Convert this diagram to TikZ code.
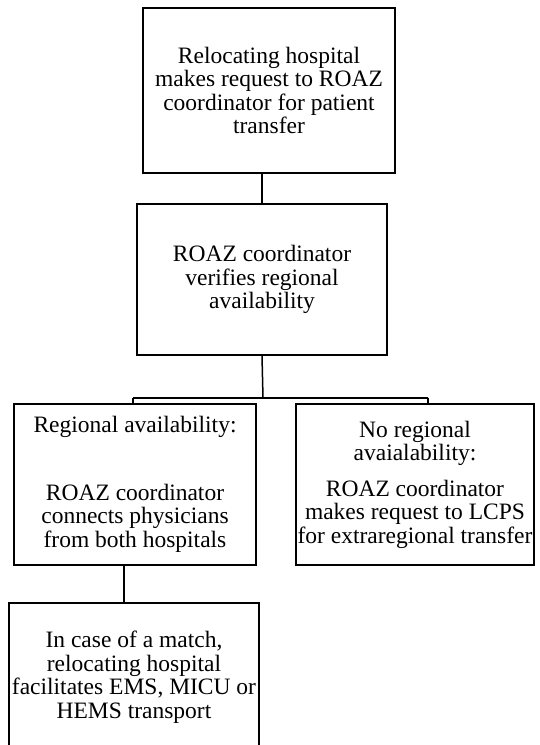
\documentclass[tikz,border=0pt]{standalone}
\usepackage{fontspec}
\setmainfont{Liberation Serif}
\usepackage{tikz}
\usetikzlibrary{calc,positioning}
\tikzstyle{stepbox} = [draw=black, line width=1.5pt, inner sep=0pt, align=center, text=black, font=\fontsize{23.5}{23.5}\selectfont]
\tikzstyle{link}    = [line width=1.5pt]

\begin{document}
\begin{tikzpicture}[x=1pt,y=-1pt]
        \useasboundingbox (0,0) rectangle (539,745);
        \clip (0,0) rectangle (539,745);

        % steps
        \node[stepbox, minimum width=252pt, minimum height=165pt] (req) at (269,90.5)
            {Relocating hospital\\ makes request to ROAZ\\ coordinator for patient\\ transfer};
        \node[stepbox, minimum width=250pt, minimum height=151pt] (verify) at (262,279.5)
            {ROAZ coordinator\\ verifies regional\\ availability};
        \node[stepbox, minimum width=242pt, minimum height=161pt] (reg) at (135,484.5)
            {Regional availability:\\[44pt] ROAZ coordinator\\ connects physicians\\ from both hospitals};
        \node[stepbox, minimum width=238pt, minimum height=161pt] (noreg) at (415,484.5)
            {No regional\\ avaialability:\\[12pt] ROAZ coordinator\\ makes request to LCPS\\ for extraregional transfer};
        \node[stepbox, minimum width=250pt, minimum height=148pt] (match) at (134,677)
            {In case of a match,\\ relocating hospital\\ facilitates EMS, MICU or\\ HEMS transport};

        % connectors
        \coordinate (split) at (263,398);
        \coordinate (barL) at (133,398);
        \coordinate (barR) at (428,398);

        \draw[link] (verify.north) -- (verify.north |- req.south);
        \draw[link] (verify.south) -- (split);
        \draw[link] (barL) -- (barR);
        \draw[link] (barL) -- (barL |- reg.north);
        \draw[link] (barR) -- (barR |- noreg.north);
        \draw[link] ([xshift=-11pt]reg.south) -- ([xshift=-11pt]reg.south |- match.north);
    \end{tikzpicture}
\end{document}
